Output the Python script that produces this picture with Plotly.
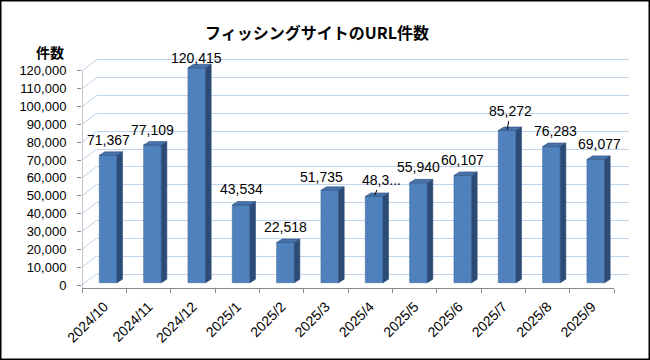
import plotly.graph_objects as go

# ---------------- data ----------------
categories = ["2024/10", "2024/11", "2024/12", "2025/1", "2025/2", "2025/3",
              "2025/4", "2025/5", "2025/6", "2025/7", "2025/8", "2025/9"]
counts = [71367, 77109, 120415, 43534, 22518, 51735,
          48300, 55940, 60107, 85272, 76283, 69077]
label_text = ["71,367", "77,109", "120,415", "43,534", "22,518", "51,735",
              "48,3...", "55,940", "60,107", "85,272", "76,283", "69,077"]
y_ticks = list(range(0, 120001, 10000))
y_tick_text = [f"{v:,}" for v in y_ticks]
title_text = "フィッシングサイトのURL件数"
y_title = "件数"

# ---------------- geometry (pixels) ----------------
W, H = 650, 360
L, R, T, B = 82, 20, 40, 72
PW, PH = W - L - R, H - T - B
front_w = 532                    # width of the front category axis
n = len(categories)
cat_px = front_w / n             # px per category
k = 0.001785                     # px per count unit
floor_gap = 3                    # zero sits this many px above floor edge
y_lo = -floor_gap / k
y_hi = y_lo + PH / k
back_dx, back_dy = 14.5, 11      # back wall offset
bar_shift, bar_w = 4.0, 17.7     # bar front-face offset / width
bar_base_px = 2.3
depth_dx, depth_dy = 5.5, 3.5    # bar 3D depth

bdx = back_dx / cat_px
bdy = back_dy / k
shift = bar_shift / cat_px
bw = bar_w / cat_px
base = bar_base_px / k
ddx = depth_dx / cat_px
ddy = depth_dy / k

GRID = "#BFD3EC"
AXIS = "#8C8C8C"
FRONT = "#4F81BD"
SIDE = "#2C4B76"
TOP = "#4673AC"
EDGE = "#2E4D79"
FONT = "Liberation Sans"

idx = list(range(n))
fig = go.Figure()

# back wall dummy (to carry the gridlines)
fig.add_trace(go.Scatter(x=[0], y=[0], xaxis="x", yaxis="y", mode="markers",
                         marker=dict(opacity=0), hoverinfo="skip", showlegend=False))

# side-wall diagonals
dx_, dy_ = [], []
for v in y_ticks:
    dx_ += [-0.5, -0.5 + bdx, None]
    dy_ += [v, v + bdy, None]
fig.add_trace(go.Scatter(x=dx_, y=dy_, xaxis="x2", yaxis="y2", mode="lines",
                         line=dict(color=GRID, width=1), cliponaxis=False,
                         hoverinfo="skip", showlegend=False))
# floor right edge
fig.add_trace(go.Scatter(x=[n - 0.5, n - 0.5 + bdx], y=[y_lo, bdy], xaxis="x2", yaxis="y2",
                         mode="lines", line=dict(color=AXIS, width=1), cliponaxis=False,
                         hoverinfo="skip", showlegend=False))
# vertical axis line
fig.add_trace(go.Scatter(x=[-0.5, -0.5], y=[y_lo, y_ticks[-1]], xaxis="x2", yaxis="y2",
                         mode="lines", line=dict(color=AXIS, width=1), cliponaxis=False,
                         hoverinfo="skip", showlegend=False))

# bar side and top faces
sx, sy, tx, ty = [], [], [], []
for i, v in zip(idx, counts):
    xl = i + shift - bw / 2
    xr = i + shift + bw / 2
    top = base + v
    sx += [xr, xr + ddx, xr + ddx, xr, xr, None]
    sy += [base, base + ddy, top + ddy, top, base, None]
    tx += [xl, xr, xr + ddx, xl + ddx, xl, None]
    ty += [top, top, top + ddy, top + ddy, top, None]
fig.add_trace(go.Scatter(x=sx, y=sy, xaxis="x2", yaxis="y2", mode="lines", fill="toself",
                         fillcolor=SIDE, line=dict(color=EDGE, width=0.6),
                         hoverinfo="skip", showlegend=False))
fig.add_trace(go.Scatter(x=tx, y=ty, xaxis="x2", yaxis="y2", mode="lines", fill="toself",
                         fillcolor=TOP, line=dict(color=EDGE, width=0.6),
                         hoverinfo="skip", showlegend=False))
# bar front faces
fig.add_trace(go.Bar(x=idx, y=counts, base=base, width=bw, offset=shift - bw / 2,
                     xaxis="x2", yaxis="y2",
                     marker=dict(color=FRONT, line=dict(color="#3F6A9E", width=0.6)),
                     hoverinfo="skip", showlegend=False))
# tick-mark overlay dummy
fig.add_trace(go.Scatter(x=[0], y=[0], xaxis="x3", yaxis="y2", mode="markers",
                         marker=dict(opacity=0), hoverinfo="skip", showlegend=False))

# data labels
nudges = {2: (0, 10), 5: (-8, 13.5), 10: (4, 15.5), 11: (4, 15.5)}
leaders = {6: (7, -16), 9: (3, -19)}
annotations = []
for i, (v, t) in enumerate(zip(counts, label_text)):
    xc = i + shift
    if i in leaders:
        ax, ay = leaders[i]
        annotations.append(dict(x=xc, y=base + v, xref="x2", yref="y2", text=t,
                                showarrow=True, arrowhead=0, arrowwidth=1, arrowcolor="#000",
                                ax=ax, ay=ay, standoff=1,
                                font=dict(family=FONT, size=14, color="#000")))
    else:
        xs, ys = nudges.get(i, (0, 15.5))
        annotations.append(dict(x=xc, y=base + v, xref="x2", yref="y2", text=t,
                                showarrow=False, xshift=xs, yshift=ys,
                                xanchor="center", yanchor="middle",
                                font=dict(family=FONT, size=14, color="#000")))
# axis title
annotations.append(dict(x=(50 - L) / PW, y=(H - B - 51.5) / PH, xref="paper", yref="paper",
                        text="<b>" + y_title + "</b>", showarrow=False,
                        xanchor="center", yanchor="middle",
                        font=dict(family="Noto Sans CJK JP", size=14, color="#000")))

fig.update_layout(
    width=W, height=H,
    margin=dict(l=L, r=R, t=T, b=B),
    paper_bgcolor="white", plot_bgcolor="rgba(0,0,0,0)",
    hovermode=False,
    title=dict(text="<b>" + title_text + "</b>", x=317 / W, xanchor="center",
               y=1 - 33 / H, yanchor="middle",
               font=dict(family="Noto Sans CJK JP", size=16, color="#000")),
    xaxis=dict(domain=[back_dx / PW, (front_w + back_dx) / PW], range=[-0.5, n - 0.5],
               showgrid=False, zeroline=False, showticklabels=False, ticks="", showline=False),
    yaxis=dict(domain=[back_dy / PH, 1], range=[y_lo, y_lo + (PH - back_dy) / k],
               tickvals=y_ticks, showgrid=True, gridcolor=GRID, gridwidth=1,
               zeroline=False, showticklabels=False, ticks="", showline=False),
    xaxis2=dict(domain=[0, front_w / PW], range=[-0.5, n - 0.5], anchor="y2",
                tickvals=idx, ticktext=categories, tickangle=-45, ticks="",
                showgrid=False, zeroline=False, showline=True, linecolor=AXIS, linewidth=1,
                ticklabelstandoff=4,
                tickfont=dict(family=FONT, size=14, color="#000")),
    yaxis2=dict(domain=[0, 1], range=[y_lo, y_hi], anchor="x2",
                tickvals=y_ticks, ticktext=y_tick_text, ticks="outside", ticklen=4,
                tickcolor=AXIS, showgrid=False, zeroline=False, showline=False,
                ticklabelstandoff=8,
                tickfont=dict(family=FONT, size=13, color="#000")),
    xaxis3=dict(overlaying="x2", anchor="y2", range=[-0.5, n - 0.5],
                tickvals=[i - 0.5 for i in range(n + 1)], ticks="outside", ticklen=4,
                tickcolor=AXIS, showticklabels=False, showgrid=False, zeroline=False,
                showline=False),
    annotations=annotations,
    shapes=[dict(type="rect", xref="paper", yref="paper",
                 x0=-L / PW, x1=1 + R / PW, y0=-B / PH, y1=1 + T / PH,
                 line=dict(color="#000", width=3), layer="above")],
)

fig.write_html("out.html", config={"displayModeBar": False},
               post_script="document.body.style.margin='0';document.body.style.overflow='hidden';")
